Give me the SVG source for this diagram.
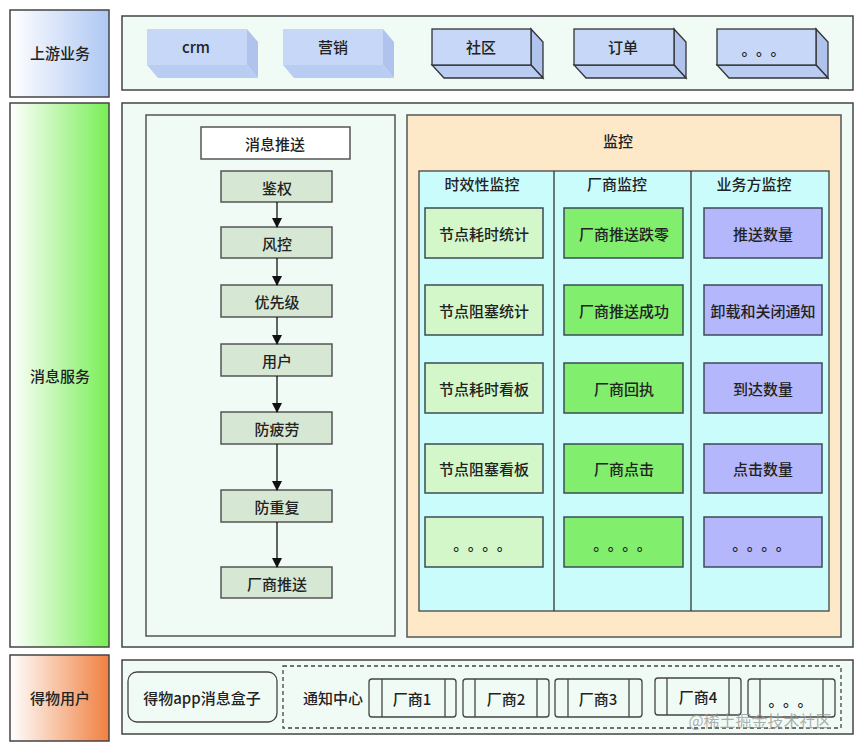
<svg xmlns="http://www.w3.org/2000/svg" width="864" height="752" viewBox="0 0 864 752">
<defs>
<linearGradient id="gBlue" x1="0" y1="0" x2="1" y2="0"><stop offset="0" stop-color="#ffffff"/><stop offset="1" stop-color="#aec7f3"/></linearGradient>
<linearGradient id="gGreen" x1="0" y1="0" x2="1" y2="0"><stop offset="0" stop-color="#ffffff"/><stop offset="1" stop-color="#78ee55"/></linearGradient>
<linearGradient id="gOrange" x1="0" y1="0" x2="1" y2="0"><stop offset="0" stop-color="#ffffff"/><stop offset="1" stop-color="#f08040"/></linearGradient>
<marker id="arr" markerWidth="10" markerHeight="10" refX="9" refY="5" orient="auto" markerUnits="userSpaceOnUse"><path d="M0,0 L10,5 L0,10 Z" fill="#111"/></marker>
<style>
text{font-family:"Noto Sans CJK SC","Liberation Sans",sans-serif;font-size:15px;font-weight:500;fill:#222;text-anchor:middle;dominant-baseline:central}
.panel{fill:#f1fbf5;stroke:#444;stroke-width:1.5}
.lbl{stroke:#444;stroke-width:1.5}
.cf{fill:#c6d7f7}.cr{fill:#afc3ed}.cb{fill:#b9ccf2}
.cs{stroke:#333;stroke-width:1.3}
.flow{fill:#d6e7d3;stroke:#555;stroke-width:1.5}
.c1{fill:#d3f7c9;stroke:#3d4b57;stroke-width:1.5}
.c2{fill:#82ee6e;stroke:#3d4b57;stroke-width:1.5}
.c3{fill:#b4b7fb;stroke:#3d4b57;stroke-width:1.5}
.vend{fill:none;stroke:#444;stroke-width:1.3}
.dots{font-size:15px;letter-spacing:7px}
</style>
</defs>
<rect width="864" height="752" fill="#ffffff"/>

<g id="label-upstream"><rect class="lbl" x="10" y="10" width="99" height="87" fill="url(#gBlue)"/><text x="60" y="52">上游业务</text></g>
<g id="label-msg"><rect class="lbl" x="10" y="103" width="99" height="544" fill="url(#gGreen)"/><text x="60" y="375">消息服务</text></g>
<g id="label-user"><rect class="lbl" x="10" y="655" width="99" height="86" fill="url(#gOrange)"/><text x="60" y="697">得物用户</text></g>

<g id="panel-upstream"><rect class="panel" x="122" y="16" width="731" height="74"/></g>
<g id="panel-msg"><rect class="panel" x="122" y="103" width="731" height="544"/></g>
<g id="panel-user"><rect class="panel" x="122" y="660" width="731" height="74"/></g>

<g id="up-crm">
<polygon class="cr" points="247,29 258,42 258,78 247,65"/><polygon class="cb" points="147,65 247,65 258,78 158,78"/><rect class="cf" x="147" y="29" width="100" height="36"/><text x="196" y="46">crm</text></g>
<g id="up-marketing">
<polygon class="cr" points="383,29 394,42 394,78 383,65"/><polygon class="cb" points="283,65 383,65 394,78 294,78"/><rect class="cf" x="283" y="29" width="100" height="36"/><text x="333" y="46">营销</text></g>
<g id="up-community">
<polygon class="cr cs" points="531,29 543,42 543,78 531,65"/><polygon class="cb cs" points="432,65 531,65 543,78 444,78"/><rect class="cf cs" x="432" y="29" width="99" height="36"/><text x="481" y="46">社区</text></g>
<g id="up-order">
<polygon class="cr cs" points="674,29 686,42 686,78 674,65"/><polygon class="cb cs" points="574,65 674,65 686,78 586,78"/><rect class="cf cs" x="574" y="29" width="100" height="36"/><text x="623" y="46">订单</text></g>
<g id="up-more">
<polygon class="cr cs" points="816,29 828,42 828,78 816,65"/><polygon class="cb cs" points="717,65 816,65 828,78 729,78"/><rect class="cf cs" x="717" y="29" width="99" height="36"/><text class="dots" x="767" y="48">。。。</text></g>

<g id="push-container"><rect x="146" y="115" width="249" height="521" fill="#f1fbf5" stroke="#555" stroke-width="1.5"/></g>
<g id="push-title"><rect x="201" y="127" width="149" height="32" fill="#ffffff" stroke="#555" stroke-width="1.5"/><text x="275" y="143">消息推送</text></g>
<g id="step-auth"><rect class="flow" x="221" y="171" width="111" height="31"/><text x="277" y="187">鉴权</text></g>
<g id="step-risk"><rect class="flow" x="221" y="227" width="111" height="31"/><text x="277" y="243">风控</text></g>
<g id="step-priority"><rect class="flow" x="221" y="285" width="111" height="32"/><text x="277" y="301">优先级</text></g>
<g id="step-user"><rect class="flow" x="221" y="344" width="111" height="32"/><text x="277" y="360">用户</text></g>
<g id="step-fatigue"><rect class="flow" x="221" y="412" width="111" height="32"/><text x="277" y="428">防疲劳</text></g>
<g id="step-dedup"><rect class="flow" x="221" y="490" width="111" height="32"/><text x="277" y="506">防重复</text></g>
<g id="step-vendor"><rect class="flow" x="221" y="567" width="111" height="31"/><text x="277" y="583">厂商推送</text></g>

<g id="connectors" stroke="#111" stroke-width="1.3" fill="none">
<line x1="277" y1="202" x2="277" y2="227" marker-end="url(#arr)"/>
<line x1="277" y1="258" x2="277" y2="285" marker-end="url(#arr)"/>
<line x1="277" y1="317" x2="277" y2="344" marker-end="url(#arr)"/>
<line x1="277" y1="376" x2="277" y2="412" marker-end="url(#arr)"/>
<line x1="277" y1="444" x2="277" y2="490" marker-end="url(#arr)"/>
<line x1="277" y1="522" x2="277" y2="567" marker-end="url(#arr)"/>
</g>

<g id="monitor"><rect x="407" y="115" width="434" height="522" fill="#fde9c8" stroke="#555" stroke-width="1.5"/><text x="618" y="140">监控</text></g>
<g id="monitor-table">
<rect x="419" y="171" width="410" height="440" fill="#c9fcfb" stroke="#444" stroke-width="1.3"/>
<line x1="554" y1="171" x2="554" y2="611" stroke="#333" stroke-width="1.3"/>
<line x1="691" y1="171" x2="691" y2="611" stroke="#333" stroke-width="1.3"/>
<text x="482" y="183">时效性监控</text><text x="617" y="183">厂商监控</text><text x="754" y="183">业务方监控</text>
</g>

<g id="m1-1"><rect class="c1" x="425" y="208" width="118" height="50"/><text x="484" y="233">节点耗时统计</text></g>
<g id="m1-2"><rect class="c1" x="425" y="285" width="118" height="50"/><text x="484" y="310">节点阻塞统计</text></g>
<g id="m1-3"><rect class="c1" x="425" y="363" width="118" height="50"/><text x="484" y="388">节点耗时看板</text></g>
<g id="m1-4"><rect class="c1" x="425" y="444" width="118" height="49"/><text x="484" y="468">节点阻塞看板</text></g>
<g id="m1-5"><rect class="c1" x="425" y="517" width="118" height="50"/><text class="dots" x="486" y="543">。。。。</text></g>

<g id="m2-1"><rect class="c2" x="564" y="208" width="119" height="50"/><text x="624" y="233">厂商推送跌零</text></g>
<g id="m2-2"><rect class="c2" x="564" y="285" width="119" height="50"/><text x="624" y="310">厂商推送成功</text></g>
<g id="m2-3"><rect class="c2" x="564" y="363" width="119" height="50"/><text x="624" y="388">厂商回执</text></g>
<g id="m2-4"><rect class="c2" x="564" y="444" width="119" height="49"/><text x="624" y="468">厂商点击</text></g>
<g id="m2-5"><rect class="c2" x="564" y="517" width="119" height="50"/><text class="dots" x="626" y="543">。。。。</text></g>

<g id="m3-1"><rect class="c3" x="704" y="208" width="118" height="50"/><text x="763" y="233">推送数量</text></g>
<g id="m3-2"><rect class="c3" x="704" y="285" width="118" height="50"/><text x="763" y="310">卸载和关闭通知</text></g>
<g id="m3-3"><rect class="c3" x="704" y="363" width="118" height="50"/><text x="763" y="388">到达数量</text></g>
<g id="m3-4"><rect class="c3" x="704" y="444" width="118" height="49"/><text x="763" y="468">点击数量</text></g>
<g id="m3-5"><rect class="c3" x="704" y="517" width="118" height="50"/><text class="dots" x="765" y="543">。。。。</text></g>

<g id="app-box"><rect x="128" y="672" width="149" height="50" rx="9" fill="#f1fbf5" stroke="#444" stroke-width="1.3"/><text x="202" y="697">得物app消息盒子</text></g>
<g id="notify-center"><rect x="283" y="666" width="558" height="62" fill="none" stroke="#444" stroke-width="1.3" stroke-dasharray="4,3"/><text x="333" y="697">通知中心</text></g>
<g id="vendor1"><rect class="vend" x="369" y="679" width="87" height="38" rx="3"/><line class="vend" x1="382" y1="679" x2="382" y2="717"/><line class="vend" x1="445" y1="679" x2="445" y2="717"/><text x="412" y="698">厂商1</text></g>
<g id="vendor2"><rect class="vend" x="463" y="679" width="86" height="38" rx="3"/><line class="vend" x1="475" y1="679" x2="475" y2="717"/><line class="vend" x1="537" y1="679" x2="537" y2="717"/><text x="506" y="698">厂商2</text></g>
<g id="vendor3"><rect class="vend" x="555" y="679" width="87" height="38" rx="3"/><line class="vend" x1="568" y1="679" x2="568" y2="717"/><line class="vend" x1="629" y1="679" x2="629" y2="717"/><text x="598" y="698">厂商3</text></g>
<g id="vendor4"><rect class="vend" x="655" y="678" width="86" height="37" rx="3"/><line class="vend" x1="667" y1="678" x2="667" y2="715"/><line class="vend" x1="729" y1="678" x2="729" y2="715"/><text x="698" y="696">厂商4</text></g>
<g id="vendor-more"><rect class="vend" x="748" y="679" width="87" height="38" rx="3"/><line class="vend" x1="760" y1="679" x2="760" y2="717"/><line class="vend" x1="823" y1="679" x2="823" y2="717"/><text class="dots" x="794" y="699">。。。</text></g>

<text x="760" y="720" style="font-size:16px;font-weight:400;fill:#9a9a9a;fill-opacity:0.8">@稀土掘金技术社区</text>
</svg>
